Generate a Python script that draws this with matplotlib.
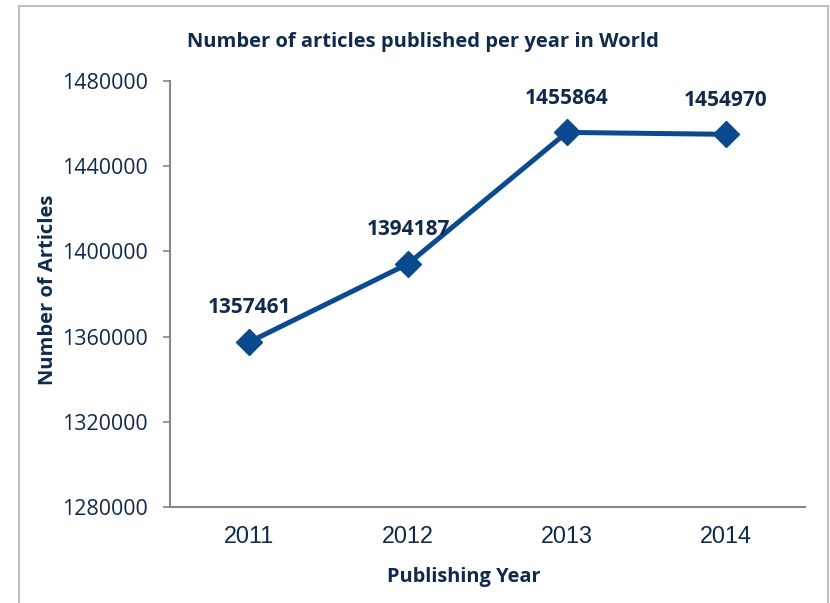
import matplotlib
matplotlib.use("Agg")
import matplotlib.pyplot as plt
from matplotlib.patches import Rectangle

years = ["2011", "2012", "2013", "2014"]
articles = [1357461, 1394187, 1455864, 1454970]
y_ticks = [1280000, 1320000, 1360000, 1400000, 1440000, 1480000]

TEXT = "#0F2A4A"
LINE = "#0B4A8E"
SPINE = "#868686"

fig = plt.figure(figsize=(8.30, 6.03), dpi=100)
ax = fig.add_axes([170 / 830, 1 - 507 / 603, (805 - 170) / 830, (507 - 81) / 603])

x = list(range(len(years)))
ax.plot(x, articles, color=LINE, lw=3.6, marker="D", markersize=13,
        solid_joinstyle="round", zorder=3)

for xi, v in zip(x, articles):
    ax.annotate(f"{v}", (xi, v), xytext=(0, 24.5), textcoords="offset points",
                ha="center", va="center", fontsize=15, fontweight="bold",
                family="Open Sans", color=TEXT)

ax.set_xlim(-0.5, len(years) - 0.5)
ax.set_ylim(y_ticks[0], y_ticks[-1])
ax.set_xticks(x)
ax.set_xticklabels(years, family="Liberation Sans", fontsize=16.8, color=TEXT)
ax.set_yticks(y_ticks)
ax.set_yticklabels([str(t) for t in y_ticks], family="Open Sans", fontsize=15.4, color=TEXT)
ax.tick_params(axis="x", length=0, pad=13)
ax.tick_params(axis="y", length=5, width=1.2, color=SPINE, pad=11)

for side in ("top", "right"):
    ax.spines[side].set_visible(False)
for side in ("left", "bottom"):
    ax.spines[side].set_color(SPINE)
    ax.spines[side].set_linewidth(1.5)

fig.text(423 / 830, 1 - 42 / 603, "Number of articles published per year in World",
         ha="center", va="center", fontsize=14.5, fontweight="bold",
         family="Open Sans", color=TEXT)
fig.text(464 / 830, 1 - 577 / 603, "Publishing Year", ha="center", va="center",
         fontsize=14.4, fontweight="bold", family="Open Sans", color=TEXT)
fig.text(48 / 830, 1 - 290 / 603, "Number of Articles", ha="center", va="center",
         rotation=90, fontsize=14.5, fontweight="bold", family="Open Sans", color=TEXT)

# chart area frame
fig.patches.append(Rectangle((19 / 830, -0.05), (828 - 19) / 830, 1.05 - 6 / 603,
                             transform=fig.transFigure, fill=False,
                             edgecolor="#BFBFBF", lw=1.5))

fig.savefig("out.png", dpi=100)
